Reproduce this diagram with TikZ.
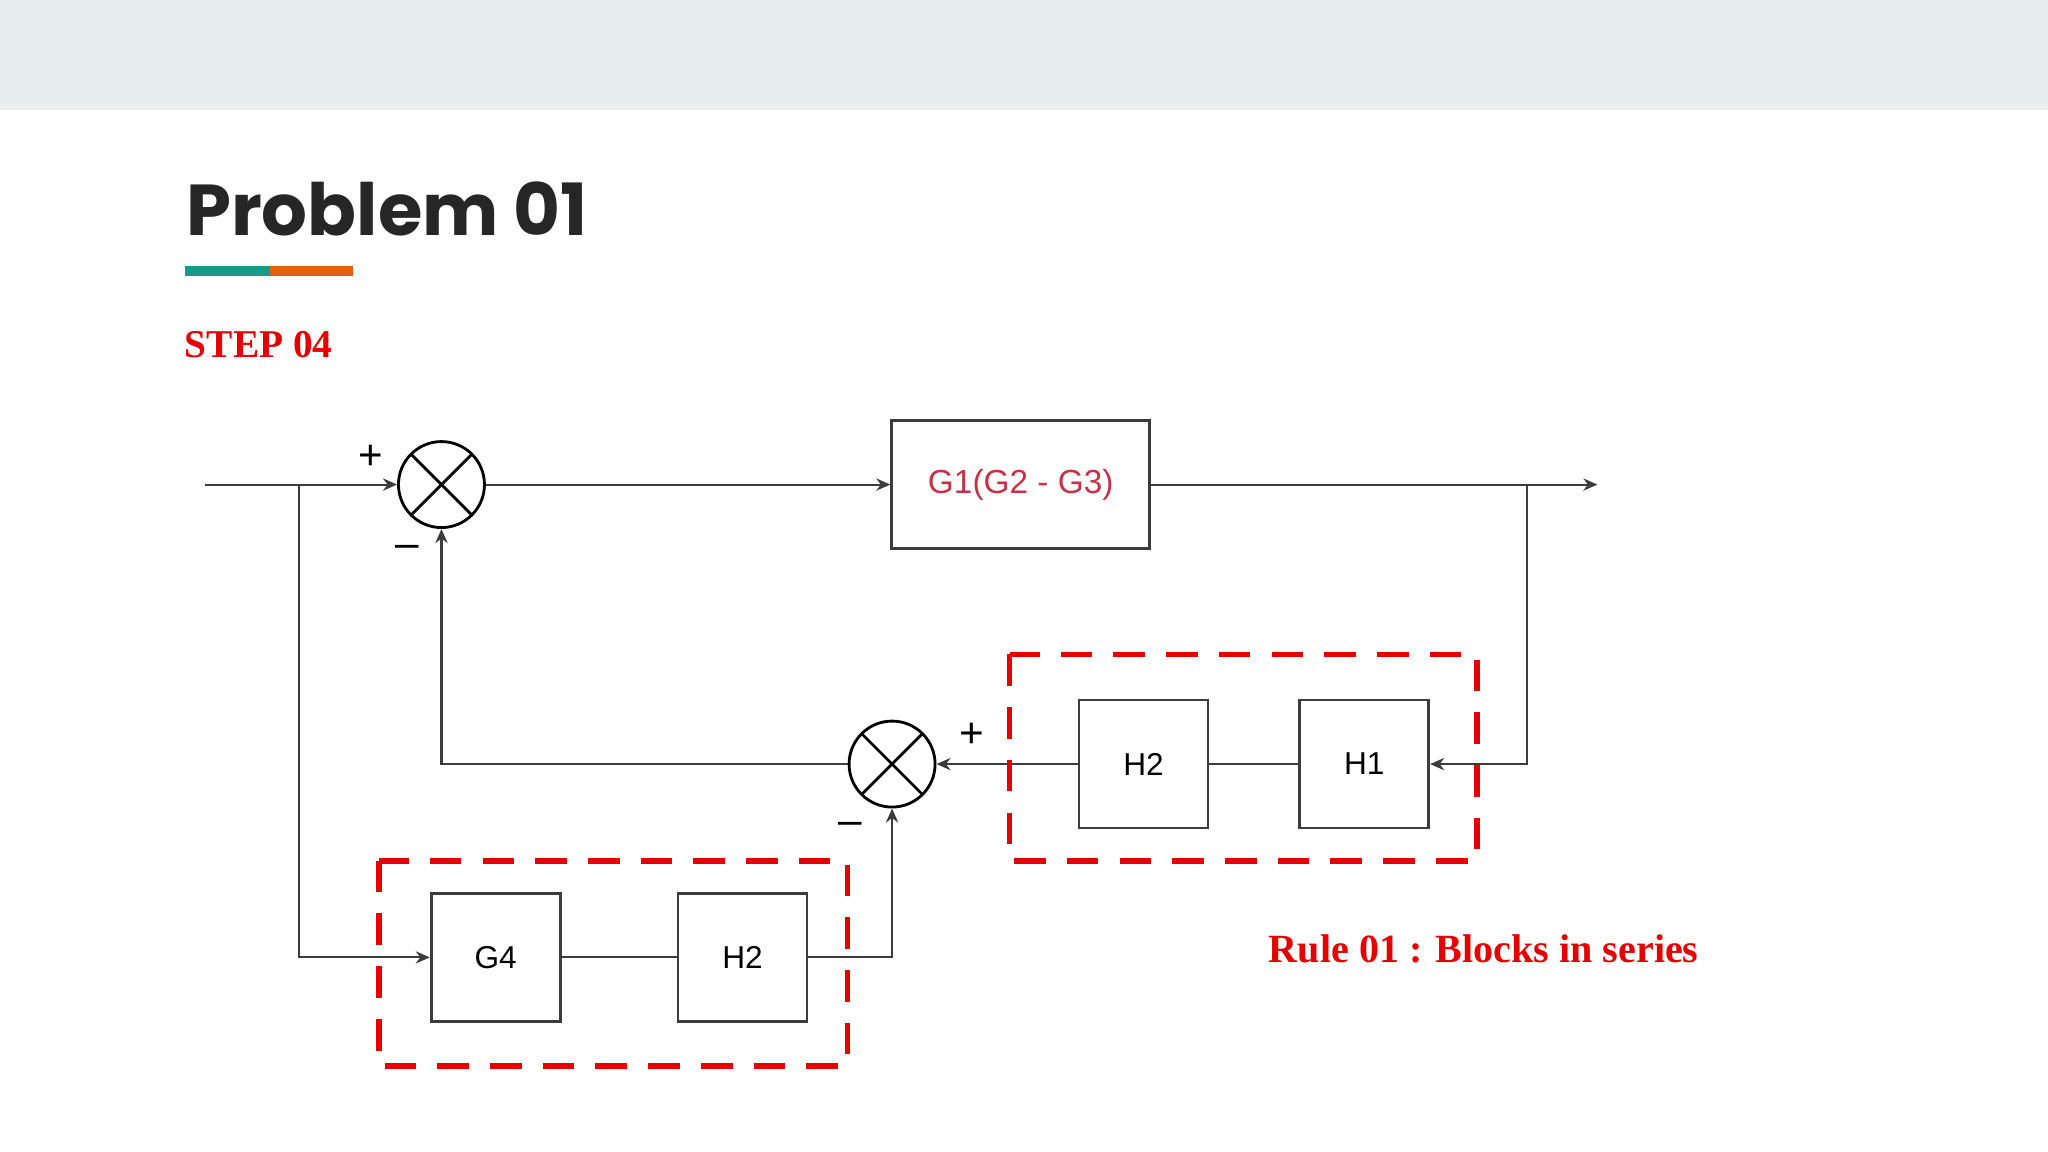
\documentclass[tikz,border=0pt]{standalone}
\usepackage{fontspec}
\setmainfont{Liberation Serif}
\newfontfamily\blockfont{Liberation Sans}
\newfontfamily\titlefont{Poppins}
\usetikzlibrary{positioning,arrows.meta}
\definecolor{bandgray}{RGB}{232,238,237}
\definecolor{barteal}{RGB}{26,154,138}
\definecolor{barorange}{RGB}{224,96,16}
\definecolor{stepred}{RGB}{230,0,0}
\definecolor{blockred}{RGB}{200,50,70}
\definecolor{wiregray}{RGB}{60,60,60}

\begin{document}
\begin{tikzpicture}[
  x=0.01306cm, y=-0.01306cm,
  block/.style={rectangle, draw=wiregray, thick, minimum width=1.29cm, minimum height=1.28cm, font=\blockfont\fontsize{9}{10}\selectfont},
  junction/.style={circle, draw=black, thick, minimum size=0.86cm, inner sep=0pt, path picture={\draw[thick] (path picture bounding box.north west) -- (path picture bounding box.south east) (path picture bounding box.south west) -- (path picture bounding box.north east);}},
  arrow/.style={-{Stealth[length=4pt, width=3.5pt]}, color=wiregray, line width=0.6pt},
  wire/.style={color=wiregray, line width=0.6pt},
  group/.style={draw=stepred, ultra thick, dash pattern=on 9pt off 6pt},
  sign/.style={font=\blockfont\fontsize{12}{12}\selectfont}
]
\useasboundingbox (0,0) rectangle (1568,882);
\fill[bandgray] (0,0) rectangle (1568,84);

% Heading
\node[anchor=base west, inner sep=0pt, font=\titlefont\bfseries\fontsize{20.5}{24}\selectfont, color=black!85] (title) at (142,180) {Problem 01};
\fill[barteal] (142,204) rectangle (207,211);
\fill[barorange] (207,204) rectangle (270,211);
\node[anchor=base west, inner sep=0pt, font=\bfseries\fontsize{11.2}{13}\selectfont, color=stepred] (step) at (141,274) {STEP 04};

% Blocks and junctions
\node[junction] (s1) at (338,371) {};
\node[block, minimum width=2.58cm, font=\blockfont\fontsize{9.5}{10}\selectfont, text=blockred] (g1) at (781.5,371) {G1(G2 - G3)};
\node[block] (h1) at (1044.5,585) {H1};
\node[block] (h2a) at (875.5,585) {H2};
\node[junction] (s2) at (683,585) {};
\node[block] (g4) at (379.5,733) {G4};
\node[block] (h2b) at (568.5,733) {H2};

\coordinate (in) at (157,371);
\coordinate (split) at (229,371);
\coordinate (out) at (1223,371);
\coordinate (tap) at (1169,371);

% Signal flow
\draw[arrow] (in) -- (s1.west);
\draw[arrow] (s1.east) -- (g1.west);
\draw[arrow] (g1.east) -- (out);
\draw[arrow] (tap) |- (h1.east);
\draw[wire] (h1.west) -- (h2a.east);
\draw[arrow] (h2a.west) -- (s2.east);
\draw[arrow] (s2.west) -| (s1.south);
\draw[arrow] (split) |- (g4.west);
\draw[wire] (g4.east) -- (h2b.west);
\draw[arrow] (h2b.east) -| (s2.south);

% Signs
\node[sign] at (284,350) {+};
\node[sign] at (312,422) {–};
\node[sign] at (744,563) {+};
\node[sign] at (651,634) {–};

% Series groups
\draw[group] (290,659) rectangle (649,816);
\draw[group] (773,501) rectangle (1131,659);
\node[anchor=base west, inner sep=0pt, font=\bfseries\fontsize{11.4}{14}\selectfont, color=stepred] (rule) at (971,737) {Rule 01 : Blocks in series};
\end{tikzpicture}
\end{document}
